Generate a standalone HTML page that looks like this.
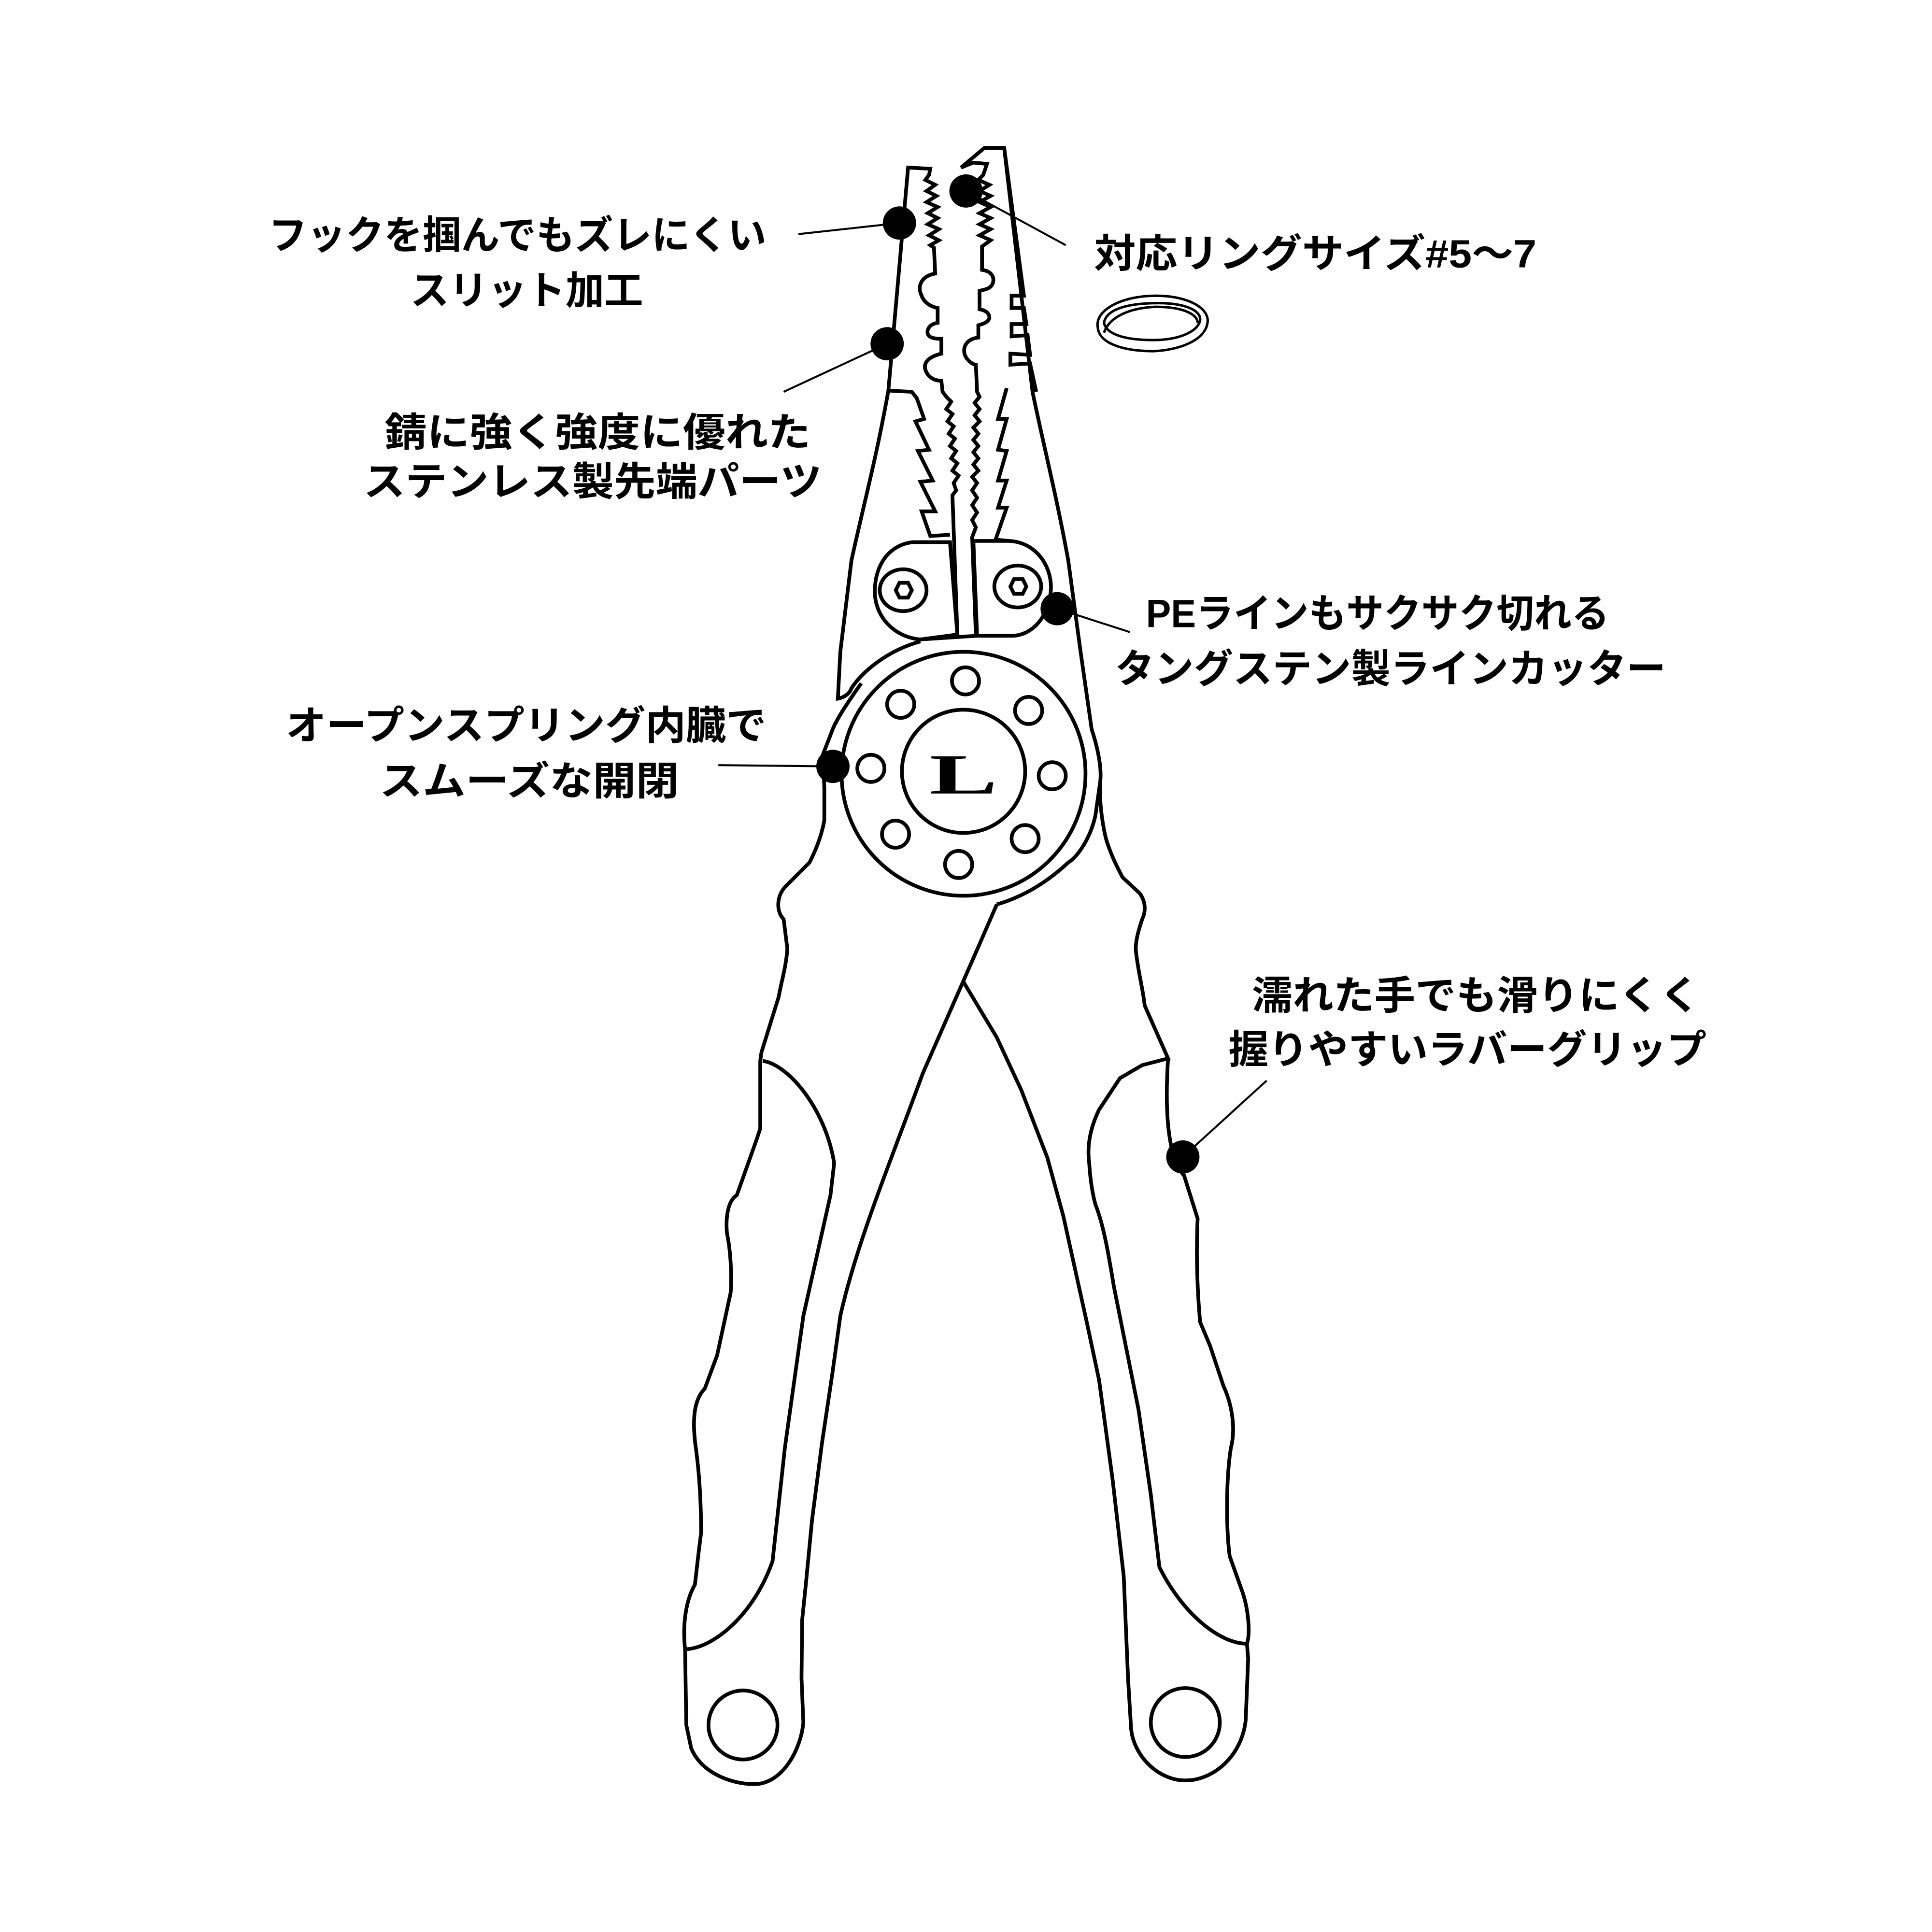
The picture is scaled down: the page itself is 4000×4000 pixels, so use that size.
<!DOCTYPE html>
<html><head><meta charset="utf-8"><style>
html,body{margin:0;padding:0;background:#fff;}
svg{display:block;}
text{font-family:"Liberation Sans","Noto Sans CJK JP",sans-serif;font-weight:bold;font-size:32px;fill:#000;}
</style></head><body>
<svg width="4000" height="4000" viewBox="0 0 1568 1568" xmlns="http://www.w3.org/2000/svg">
<rect width="1568" height="1568" fill="#fff"/>
<g fill="none" stroke="#000" stroke-width="3" stroke-linejoin="miter" stroke-linecap="butt">
<path d="M721,317 L737,136 L755,137 L754,142 L751,146 L759,150 L752,155 L760,159 L752,164 L761,168 L753,173 L761,177 L753,182 L762,186 L754,191 L762,195 L755,199 L758,201 L759,222 C748,224 744,232 748,240 C750,246 756,249 761,250 L761,262 C754,263 752,268 753,271 C754,274 758,275 764,275 L764,287 C756,289 749,293 751,300 C753,306 758,309 764,309 L765,318 L768,322 L772,326 L768,332 L773,336 L769,342 L774,346 L770,352 L775,356 L771,362 L776,366 L772,372 L777,376 L773,382 L778,386 L774,392 L776,398 L773,402 L777,515"/>
<path d="M721,317 L740,318 L744,323 L750,340 L743,342 L754,365 L745,366 L757,390 L747,391 L759,415 L748,415 L755,435 L771,434"/>
<path d="M721,317 C711,373 701,409 691,455 L682,529 L680,567 C686,566 690,562 691,558.6 C700,545 720,528 747,520.6"/>
<path d="M838,318 L815,120 L799,120 L780,136 L790,132 L801,133 L798,142 L794,146 L803,150 L795,155 L804,159 L795,164 L804,168 L795,173 L804,177 L795,182 L804,186 L795,191 L804,195 L797,200 L797,219 C804,220 807,224 806,229 C805,234 800,235 795,236 L795,251 C801,252 803,255 803,258 C802,262 797,263 794,264 L794,274 C785,275 781,281 783,288 C785,293 790,296 792,296 L793,318 L795,322 L791,327 L795,332 L791,337 L795,342 L790,347 L794,352 L790,357 L794,362 L790,367 L794,372 L790,377 L794,382 L789,387 L793,392 L789,398 L793,404 L789,410 L793,416 L789,422 L792,428 L789,436 L792,515"/>
<path d="M815,120 L831,240 L821,240 L821,250 L831,250 L833,263 L821,263 L821,273 L834,272 L836,288 L820,287 L820,296 L836,295 L841,318"/>
<path d="M838,318 C847,362 857,400 867,455 L877,529 L886,592 C892,610 894,625 893,634 L889,662 C885,680 875,695 867,700 C850,716 830,728 809,734"/>
<path d="M817,315 L810,340 L817,340 L810,365 L817,366 L810,390 L817,390 L810,412 L817,412 L808,438 L819,439"/>
<path d="M741,440 L771,440 L777,515 L747,519 C725,517 710,500 710,480 C710,458 722,442 741,440 Z"/>
<ellipse cx="733" cy="479" rx="19" ry="17"/>
<polygon points="727,479 730,473 737,473 740,479 737,485 730,485"/>
<path d="M790,439 L819,439 C840,440 853,458 853,477 C852,500 838,516 821,516 L793,516 Z"/>
<ellipse cx="826" cy="476" rx="19" ry="17"/>
<polygon points="820,476 823,470 830,470 833,476 830,482 823,482"/>
<path d="M747,519 L777,517 L793,516"/>
<circle cx="782" cy="628" r="99"/>
<circle cx="782" cy="626" r="50"/>
<circle cx="783.6" cy="552.6" r="11"/>
<circle cx="731" cy="571.6" r="11"/>
<circle cx="834.8" cy="576.6" r="11"/>
<circle cx="706.8" cy="623.6" r="11"/>
<circle cx="854" cy="629.6" r="11"/>
<circle cx="726.8" cy="677" r="11"/>
<circle cx="832" cy="680.6" r="11"/>
<circle cx="778" cy="701.6" r="11"/>
<path d="M699,554.6 C688,570 678,585 675,594 L668,612 L669,640 L669,666 C666,682 660,694 657,700 L637,720 C630,728 630,740 636,746 L639,770 C638,785 634,797 632,809 L618,854 L617,861 L617,916 L614,925 L598,970 C590,975 589,990 590,1001 C593,1015 594,1035 593,1049 L582,1100 L572,1127 C564,1135 561,1150 565,1177 C568,1200 569,1225 569,1244 L567,1260 L564,1286 C556,1300 554,1320 556,1338.5 L557,1400 L561,1419 C570,1440 595,1448 612,1448 C635,1448 650,1420 652,1398 L650.5,1362 L651,1315 L654,1286 L659,1234 L667,1172 L675.5,1115 L682,1068 C695,1010 720,950 749,871 L767,830 L794,768.5 L809,734"/>
<path d="M619,861 C640,864 670,900 677,944 L674,970 L652,1068 L637,1175 L627,1267 C612,1310 580,1337 557,1338.5"/>
<circle cx="603" cy="1400" r="28"/>
<path d="M893,634 L893,650 C894,665 897,680 899,685 C903,697 908,706 911,712 L925,725 C930,732 930,740 927,746 C924,755 921,765 922,773 C924,790 928,805 929,816 L948,859 L927,864.5 L909,875 L892,900.6 C885,915 882,930 884,944 C885,960 887,970 889,977.5 C896,995 900,1020 904,1044 L924,1144 L934,1213 L941,1272 C960,1310 990,1334 1012,1334"/>
<path d="M948,859 C946,890 947,915 951,932 C955,945 960,954 961,954 L972,989 C971,1010 971,1040 974,1073 L982,1092 L993,1125 C1000,1140 1003,1160 999,1175 C995,1200 995,1240 998,1263 L1008,1291 C1013,1305 1015,1325 1012,1334 L1013,1346 L1011,1396 C1008,1425 985,1445 962,1445 C940,1445 920,1425 918,1403 L915.5,1362 L912,1279 L903,1201 L892,1120 L882,1073 L863,987 L850,939.5 L829,885 L809,842 L782,797"/>
<circle cx="962" cy="1398" r="28"/>
<path d="M891,266 C888,252 910,240 938,240 C964,240 982,250 980,262 C978,276 958,284 936,285 C910,285 892,278 891,266 Z" stroke-width="2"/>
<path d="M896,270 C900,258 915,250 938,249 C960,249 972,255 972,262" stroke-width="2"/>
<path d="M896,262 C898,250 918,246 940,246 C962,246 975,252 974,260 C972,270 955,276 936,276 C915,276 898,272 896,262 Z" stroke-width="2"/>
</g>
<text x="782" y="644" text-anchor="middle" transform="translate(782 0) scale(1.8 1) translate(-782 0)" style="font-family:'Liberation Serif',serif;font-size:46px;font-weight:bold">L</text>
<g stroke="#000" stroke-width="1.6" fill="none">
<line x1="648" y1="190" x2="730" y2="181"/>
<line x1="784" y1="155" x2="865" y2="199"/>
<line x1="636" y1="318" x2="720" y2="279"/>
<line x1="858" y1="494" x2="917" y2="513"/>
<line x1="583" y1="621" x2="676" y2="622"/>
<line x1="1028" y1="877" x2="960" y2="939"/>
</g>
<g fill="#000">
<circle cx="730" cy="181" r="13.5"/>
<circle cx="784" cy="155" r="13.5"/>
<circle cx="720" cy="279" r="13.5"/>
<circle cx="858" cy="494" r="13.5"/>
<circle cx="676" cy="622" r="13.5"/>
<circle cx="960" cy="939" r="13.5"/>
</g>
<text x="218" y="202" textLength="404" lengthAdjust="spacingAndGlyphs">フックを掴んでもズレにくい</text>
<text x="333" y="247" textLength="189" lengthAdjust="spacingAndGlyphs">スリット加工</text>
<text x="312" y="362" textLength="346" lengthAdjust="spacingAndGlyphs">錆に強く強度に優れた</text>
<text x="295" y="402" textLength="372" lengthAdjust="spacingAndGlyphs">ステンレス製先端パーツ</text>
<text x="888" y="217" textLength="359" lengthAdjust="spacingAndGlyphs">対応リングサイズ#5～7</text>
<text x="930" y="509" textLength="376" lengthAdjust="spacingAndGlyphs">PEラインもサクサク切れる</text>
<text x="905" y="554" textLength="447" lengthAdjust="spacingAndGlyphs">タングステン製ラインカッター</text>
<text x="232" y="600" textLength="390" lengthAdjust="spacingAndGlyphs">オープンスプリング内臓で</text>
<text x="308" y="645" textLength="243" lengthAdjust="spacingAndGlyphs">スムーズな開閉</text>
<text x="1016" y="819" textLength="364" lengthAdjust="spacingAndGlyphs">濡れた手でも滑りにくく</text>
<text x="997" y="863" textLength="388" lengthAdjust="spacingAndGlyphs">握りやすいラバーグリップ</text>
</svg>
</body></html>
